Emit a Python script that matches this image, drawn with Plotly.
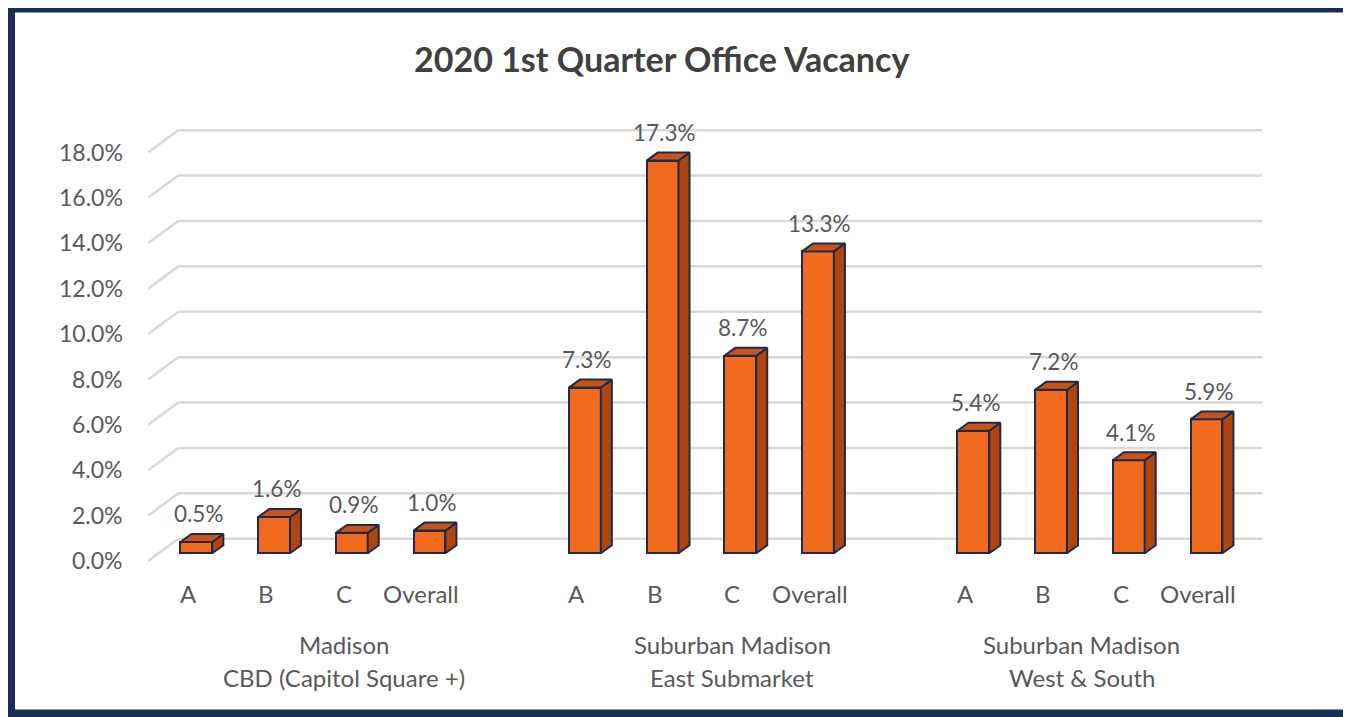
import plotly.graph_objects as go

# ---- data ----
categories = ["A", "B", "C", "Overall"]
group_line1 = ["Madison", "Suburban Madison", "Suburban Madison"]
group_line2 = ["CBD (Capitol Square +)", "East Submarket", "West & South"]
cbd_values = [0.5, 1.6, 0.9, 1.0]
east_values = [7.3, 17.3, 8.7, 13.3]
west_values = [5.4, 7.2, 4.1, 5.9]
y_ticks = [0, 2, 4, 6, 8, 10, 12, 14, 16, 18]
title_text = "2020 1st Quarter Office Vacancy"

group_values = [cbd_values, east_values, west_values]

# ---- layout geometry (page pixels; the page body has an 8px margin) ----
OFF = 8
W, H = 1351 - OFF, 717 - OFF
# plot area in page pixels: x 41..1323, y 122..576
PL, PR, PT, PB = 41, 1323, 122, 576
ML, MT = PL - OFF, PT - OFF
MR, MB = W - (PR - OFF), H - (PB - OFF)
XR = [-2.0, 14.5]
YR = [-1.0, 19.0]
PW = PR - PL
PH = PB - PT

def px_x(px):
    return (px - PL) / PW

def px_y(py):
    return (PB - py) / PH

BAR_W = 0.41
DX, DY = 0.142, 0.352          # bar depth
WALL_DX, WALL_DY_BACK, WALL_DY_FRONT = 0.386, 0.64, -0.33
WALL_X0 = -0.618
WALL_X1 = WALL_X0 + WALL_DX
GRID_END = 13.72

FRONT = "#F26A1E"
SIDE = "#B0460F"
TOP = "#C75519"
EDGE = "#1F2A4A"
TEXT = "#595959"
GRID = "#D9D9D9"
FONT = "Lato"

fig = go.Figure()

xs, ys, labels = [], [], []
for gi, vals in enumerate(group_values):
    for ci, v in enumerate(vals):
        xs.append(gi * 5 + ci)
        ys.append(v)
        labels.append(categories[ci])

# front faces
fig.add_trace(go.Bar(x=xs, y=ys, width=BAR_W,
                     marker=dict(color=FRONT, line=dict(color=EDGE, width=2)),
                     hoverinfo="skip", showlegend=False))

# side + top faces derived from values
for p, v in zip(xs, ys):
    r = p + BAR_W / 2
    l = p - BAR_W / 2
    fig.add_trace(go.Scatter(
        x=[r, r + DX, r + DX, r, r], y=[0, DY, v + DY, v, 0],
        mode="lines", fill="toself", fillcolor=SIDE,
        line=dict(color=EDGE, width=2), hoverinfo="skip", showlegend=False))
    fig.add_trace(go.Scatter(
        x=[l, r, r + DX, l + DX, l], y=[v, v, v + DY, v + DY, v],
        mode="lines", fill="toself", fillcolor=TOP,
        line=dict(color=EDGE, width=2), hoverinfo="skip", showlegend=False))

shapes = []
annotations = []
for t in y_ticks:
    shapes.append(dict(type="line", xref="x", yref="y", layer="below",
                       x0=WALL_X1, x1=GRID_END, y0=t + WALL_DY_BACK, y1=t + WALL_DY_BACK,
                       line=dict(color=GRID, width=2.5)))
    shapes.append(dict(type="line", xref="x", yref="y", layer="below",
                       x0=WALL_X0, x1=WALL_X1, y0=t + WALL_DY_FRONT, y1=t + WALL_DY_BACK,
                       line=dict(color=GRID, width=2.5)))
    annotations.append(dict(x=-0.914, y=t - 0.3, xref="x", yref="y",
                            text=f"{t:.1f}%", showarrow=False,
                            xanchor="right", yanchor="middle",
                            font=dict(family=FONT, size=23, color=TEXT)))

# value labels
for p, v in zip(xs, ys):
    annotations.append(dict(x=p, y=v, xref="x", yref="y", text=f"{v:.1f}%",
                            showarrow=False, xanchor="center", yanchor="middle",
                            xshift=2, yshift=28,
                            font=dict(family=FONT, size=22.5, color=TEXT)))

# category labels
for p, lab in zip(xs, labels):
    annotations.append(dict(x=p, y=px_y(593), xref="x", yref="paper", text=lab,
                            showarrow=False, xanchor="center", yanchor="middle",
                            xshift=-8, font=dict(family=FONT, size=24, color=TEXT)))

# group labels (each group spans 5 slots incl. the gap, last spans 4)
spans = [(0, 4), (5, 9), (10, 13)]
for (a, b), l1, l2 in zip(spans, group_line1, group_line2):
    cx = (a + b) / 2
    annotations.append(dict(x=cx, y=px_y(644), xref="x", yref="paper", text=l1,
                            showarrow=False, xanchor="center", yanchor="middle",
                            xshift=-8, font=dict(family=FONT, size=24, color=TEXT)))
    annotations.append(dict(x=cx, y=px_y(677), xref="x", yref="paper", text=l2,
                            showarrow=False, xanchor="center", yanchor="middle",
                            xshift=-8, font=dict(family=FONT, size=24, color=TEXT)))

# title
annotations.append(dict(x=px_x(661), y=px_y(59), xref="paper", yref="paper",
                        text=f"<b>{title_text}</b>", showarrow=False,
                        xanchor="center", yanchor="middle",
                        font=dict(family=FONT, size=34, color="#404040")))

# frame border
shapes.append(dict(type="rect", xref="paper", yref="paper", layer="above",
                   x0=px_x(11), x1=px_x(1347), y0=px_y(713.5), y1=px_y(8.5),
                   line=dict(color="#1B2D54", width=8)))

fig.update_layout(
    width=W, height=H,
    margin=dict(l=ML, r=MR, t=MT, b=MB),
    paper_bgcolor="white", plot_bgcolor="white",
    xaxis=dict(range=XR, visible=False, fixedrange=True),
    yaxis=dict(range=YR, visible=False, fixedrange=True),
    shapes=shapes, annotations=annotations,
    showlegend=False, bargap=0,
)

fig.write_html("out.html")
